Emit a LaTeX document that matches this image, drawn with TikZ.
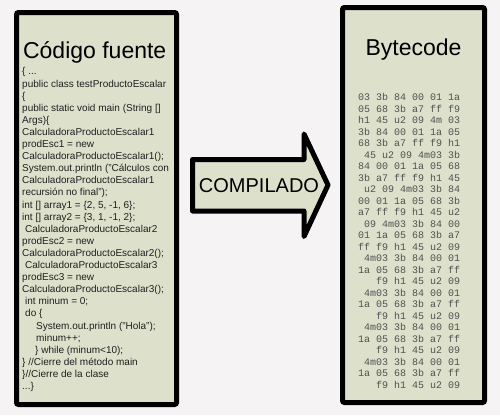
\documentclass[tikz,border=0pt]{standalone}
\usepackage{fontspec}
\setmainfont{Liberation Sans}
\setmonofont{Liberation Mono}
\usetikzlibrary{calc, positioning}
\definecolor{fondo}{RGB}{245,243,244}
\definecolor{relleno}{RGB}{221,225,204}
\definecolor{hexgris}{RGB}{80,80,80}

\begin{document}
\begin{tikzpicture}
		[x=1pt, y=-1pt,
		panel/.style={rectangle, draw=black, fill=relleno, line width=5pt, rounded corners=2pt},
		titulo/.style={anchor=base, font=\fontsize{23}{27}\selectfont},
		fuentecode/.style={anchor=north west, inner sep=0pt, align=left, font=\fontsize{10}{12.1}\selectfont, text=black!88},
		hexcode/.style={anchor=north west, inner sep=0pt, align=left, font=\ttfamily\fontsize{10}{11.5}\selectfont, text=hexgris}]
		% fondo %
		\fill[fondo] (0,0) rectangle (500,415);
		\useasboundingbox (0,0) rectangle (500,415);

		% nodes %
		\node[panel, minimum width=160pt, minimum height=392pt] (fuente) at (96.5,208.5) {};
		\node[panel, minimum width=142pt, minimum height=395pt] (bytecode) at (413.5,205) {};
		\node[titulo] (tfuente) at (94.7,58) {Código fuente};
		\node[titulo] (tbytecode) at (413.5,55) {Bytecode};

		\node[fuentecode] (codigo) at (22,67.5) {%
		\{ ...\\
		public class testProductoEscalar\\
		\{\\
		public static void main (String []\\
		Args)\{\\
		CalculadoraProductoEscalar1\\
		prodEsc1 = new\\
		CalculadoraProductoEscalar1();\\
		System.out.println ("Cálculos con\\
		CalculadoraProductoEscalar1\\
		recursión no final");\\
		int [] array1 = \{2, 5, -1, 6\};\\
		int [] array2 = \{3, 1, -1, 2\};\\
		\hspace*{3pt}CalculadoraProductoEscalar2\\
		prodEsc2 = new\\
		CalculadoraProductoEscalar2();\\
		\hspace*{3pt}CalculadoraProductoEscalar3\\
		prodEsc3 = new\\
		CalculadoraProductoEscalar3();\\
		\hspace*{3pt}int minum = 0;\\
		\hspace*{3pt}do \{\\
		\hspace*{14pt}System.out.println ("Hola");\\
		\hspace*{14pt}minum++;\\
		\hspace*{13pt}\} while (minum<10);\\
		\} //Cierre del método main\\
		\}//Cierre de la clase\\
		...\}};

		\node[hexcode] (hex) at (358,93.5) {%
		03 3b 84 00 01 1a\\
		05 68 3b a7 ff f9\\
		h1 45 u2 09 4m 03\\
		3b 84 00 01 1a 05\\
		68 3b a7 ff f9 h1\\
		\ 45 u2 09 4m03 3b\\
		84 00 01 1a 05 68\\
		3b a7 ff f9 h1 45\\
		\ u2 09 4m03 3b 84\\
		00 01 1a 05 68 3b\\
		a7 ff f9 h1 45 u2\\
		\ 09 4m03 3b 84 00\\
		01 1a 05 68 3b a7\\
		ff f9 h1 45 u2 09\\
		\ 4m03 3b 84 00 01\\
		1a 05 68 3b a7 ff\\
		\ \ \ f9 h1 45 u2 09\\
		\ 4m03 3b 84 00 01\\
		1a 05 68 3b a7 ff\\
		\ \ \ f9 h1 45 u2 09\\
		\ 4m03 3b 84 00 01\\
		1a 05 68 3b a7 ff\\
		\ \ \ f9 h1 45 u2 09\\
		\ 4m03 3b 84 00 01\\
		1a 05 68 3b a7 ff\\
		\ \ \ f9 h1 45 u2 09};

		% flecha %
		\draw[line width=5pt, line join=round, fill=relleno]
			(192.5,159.5) -- (304,159.5) -- (304,134) -- (328,185)
			-- (304,236.5) -- (304,211) -- (192.5,211) -- cycle;
		\node[anchor=base, font=\fontsize{20}{24}\selectfont] (compilado) at (259,192) {COMPILADO};
		\end{tikzpicture}
\end{document}
